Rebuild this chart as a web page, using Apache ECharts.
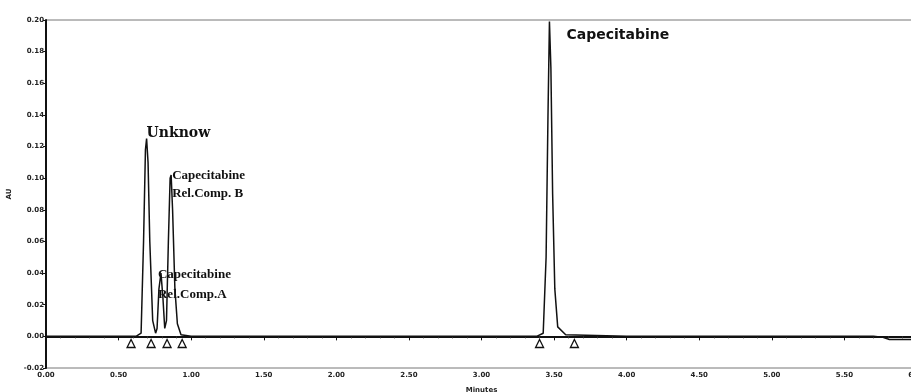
<!DOCTYPE html>
<html>
<head>
<meta charset="utf-8">
<script src="https://cdn.jsdelivr.net/npm/echarts@6/dist/echarts.min.js"></script>
<style>
  html, body { margin: 0; padding: 0; background: #fff; }
  #chart { width: 911px; height: 392px; }
</style>
</head>
<body>
<div id="chart"></div>
<script>
const traceTimes = [0.00, 0.30, 0.55, 0.62, 0.655, 0.672, 0.685, 0.693, 0.703, 0.715, 0.735, 0.755,
    0.765, 0.778, 0.792, 0.805, 0.818, 0.830, 0.843, 0.855, 0.862, 0.872, 0.888, 0.905, 0.93,
    1.00, 2.00, 3.00, 3.38, 3.425, 3.445, 3.458, 3.468, 3.478, 3.49, 3.505, 3.525, 3.58,
    4.00, 5.00, 5.70, 5.76, 5.81, 6.00];
const traceAU = [0.000, 0.000, 0.000, 0.000, 0.002, 0.060, 0.118, 0.125, 0.110, 0.060, 0.010, 0.002,
    0.005, 0.030, 0.040, 0.025, 0.005, 0.010, 0.060, 0.100, 0.102, 0.080, 0.030, 0.008, 0.001,
    0.000, 0.000, 0.000, 0.000, 0.002, 0.050, 0.140, 0.199, 0.170, 0.090, 0.030, 0.006, 0.001,
    0.000, 0.000, 0.000, -0.0005, -0.002, -0.002];

// Picos identificados
const peakNames = ['Unknow', 'Capecitabine\nRel.Comp.A', 'Capecitabine\nRel.Comp. B', 'Capecitabine'];
const peakTimes = [0.693, 0.792, 0.862, 3.468];
const peakAU = [0.125, 0.040, 0.102, 0.199];

// Marcas de integración (triángulos)
const markTimes = [0.586, 0.724, 0.834, 0.938, 3.40, 3.64];
const markAU = [-0.0045, -0.0045, -0.0045, -0.0045, -0.0045, -0.0045];

// Ejes
const xTicks = ['0.00', '0.50', '1.00', '1.50', '2.00', '2.50', '3.00', '3.50', '4.00', '4.50', '5.00', '5.50', '6.00'];
const yTicks = ['-0.02', '0.00', '0.02', '0.04', '0.06', '0.08', '0.10', '0.12', '0.14', '0.16', '0.18', '0.20'];

// Estilo de cada etiqueta de pico
const labelStyles = [
    { position: [0, -5], verticalAlign: 'middle', fontFamily: 'DejaVu Serif', fontSize: 14, fontWeight: 'bold' },
    { position: [-3, -8], verticalAlign: 'top', fontFamily: 'Liberation Serif', fontSize: 13, fontWeight: 'bold', lineHeight: 20 },
    { position: [1, -8], verticalAlign: 'top', fontFamily: 'Liberation Serif', fontSize: 13, fontWeight: 'bold', lineHeight: 18 },
    { position: [17, 14], verticalAlign: 'middle', fontFamily: 'DejaVu Sans', fontSize: 14, fontWeight: 'bold' }
];

const chart = echarts.init(document.getElementById('chart'));

const tickFont = { fontFamily: 'DejaVu Sans', fontSize: 7, fontWeight: 'bold', color: '#222' };

const option = {
    backgroundColor: '#fff',
    animation: false,
    grid: {
        left: 46, right: -6, top: 20, bottom: 24,
        outerBoundsMode: 'none',
        containLabel: false,
        show: true, borderColor: '#777', borderWidth: 1, backgroundColor: 'transparent'
    },
    xAxis: {
        type: 'value',
        min: 0, max: 6, interval: 0.5,
        name: 'Minutes',
        nameLocation: 'middle',
        nameGap: 19,
        nameTextStyle: tickFont,
        axisLine: { lineStyle: { color: '#111', width: 2 } },
        axisTick: { length: 4, lineStyle: { color: '#111' } },
        minorTick: { show: true, splitNumber: 5, length: 2, lineStyle: { color: '#333' } },
        axisLabel: Object.assign({ margin: 4, formatter: v => xTicks[Math.round(v / 0.5)] }, tickFont),
        splitLine: { show: false }
    },
    yAxis: {
        type: 'value',
        min: -0.02, max: 0.20, interval: 0.02,
        name: 'AU',
        nameLocation: 'middle',
        nameRotate: 90,
        nameGap: 26,
        nameTextStyle: tickFont,
        axisLine: { show: true, lineStyle: { color: '#111', width: 2 } },
        axisTick: { show: true, length: 3, lineStyle: { color: '#111' } },
        axisLabel: Object.assign({ margin: 2, formatter: v => yTicks[Math.round((v + 0.02) / 0.02)] }, tickFont),
        splitLine: { show: false }
    },
    series: [
        {
            name: 'trace',
            type: 'line',
            data: traceTimes.map((t, i) => [t, traceAU[i]]),
            showSymbol: false,
            lineStyle: { color: '#111', width: 1.5 },
            z: 3
        },
        {
            name: 'marks',
            type: 'scatter',
            data: markTimes.map((t, i) => [t, markAU[i]]),
            symbol: 'triangle',
            symbolSize: 8,
            itemStyle: { color: '#fff', borderColor: '#111', borderWidth: 1.3, opacity: 1 },
            z: 4
        },
        {
            name: 'labels',
            type: 'scatter',
            symbolSize: 0,
            itemStyle: { opacity: 1 },
            data: peakNames.map((n, i) => ({
                value: [peakTimes[i], peakAU[i]],
                label: Object.assign({ show: true, formatter: n, align: 'left', color: '#111' }, labelStyles[i])
            })),
            z: 5
        }
    ]
};

chart.setOption(option);
</script>
</body>
</html>
